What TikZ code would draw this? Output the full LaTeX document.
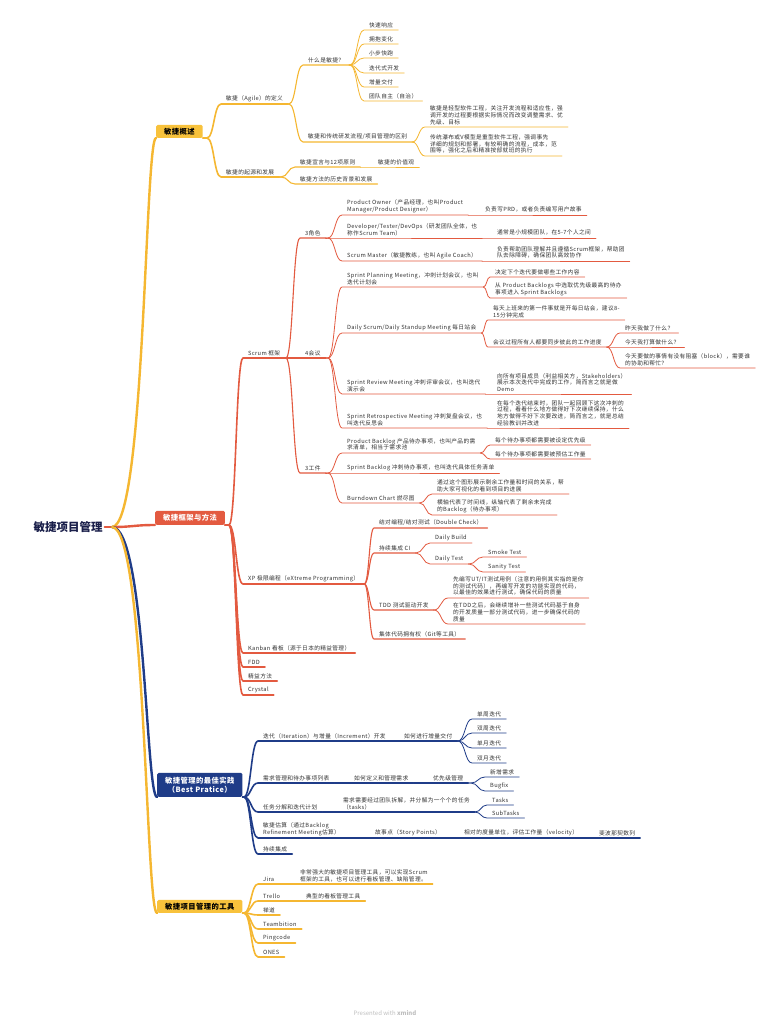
\documentclass[tikz,border=0pt]{standalone}
\usepackage{fontspec}
\setmainfont[LetterSpace=6]{Noto Sans CJK SC}
\newfontfamily\rootfont{Noto Sans CJK SC}
\usetikzlibrary{calc}
\definecolor{yl}{HTML}{F5B731}
\definecolor{ylbox}{HTML}{F8C23C}
\definecolor{rd}{HTML}{E35A40}
\definecolor{bl}{HTML}{1F3C88}
\definecolor{tx}{HTML}{333333}
\definecolor{rootc}{HTML}{1A1F4A}
\tikzset{
  tn/.style={anchor=south west, inner xsep=5pt, inner ysep=2.2pt, align=left, text=tx, font=\fontsize{5.7}{6.7}\selectfont},
  boxn/.style={anchor=south west, inner xsep=8pt, inner ysep=0pt, rounded corners=1.5pt, align=center, font=\fontsize{7.3}{9}\selectfont\bfseries},
  lnY/.style={draw=yl, line width=#1}, lnY/.default=0.8pt,
  lnR/.style={draw=rd, line width=#1}, lnR/.default=0.8pt,
  lnB/.style={draw=bl, line width=#1}, lnB/.default=0.8pt,
}
% curve from parent (south east) to child (south west) plus child's underline;
% the parent's line runs on until 14pt before the child
\newcommand{\br}[4][0.5]{%
  \draw[#2] let \p1=(#3.south east), \p2=(#4.south west), \n1={max(\x1,\x2-14pt)}, \n2={(\n1+\x2)/2} in
    (\p1) -- ({\n1*1pt},\y1) .. controls ({\n2*1pt},\y1) and ({\n2*1pt},\y2) .. (\p2) -- (#4.south east);}
% trunk from root to a box
\newcommand{\trunk}[3][0.75]{%
  \draw[#2] let \p1=(rootend), \p2=(#3.south west), \p3=($(rootend)!#1!(#3.south west)$) in
    (\p1) .. controls (\x3,\y1) and (\x3,\y2) .. (\p2);}
\begin{document}
\begin{tikzpicture}[x=1pt,y=-1pt,line cap=round,line join=round]
\useasboundingbox (0,0) rectangle (768,1024);
\fill[white] (0,0) rectangle (768,1024);

% ---------------- root
\node[inner sep=2pt, text=rootc, font=\rootfont\fontsize{11.5}{13}\selectfont\bfseries] (root) at (68,527) {敏捷项目管理};
\coordinate (rootend) at (112,527);

% ---------------- boxes
\node[boxn, fill=ylbox, text=black, minimum height=13pt] (g1) at (156,138) {敏捷概述};
\node[boxn, fill=rd, text=white, minimum height=14pt] (g2) at (155,525) {敏捷框架与方法};
\node[boxn, fill=bl, text=white, minimum height=24pt] (g3) at (157,797) {敏捷管理的最佳实践\\（Best Pratice）};
\node[boxn, fill=ylbox, text=black, minimum height=13pt] (g4) at (157,913) {敏捷项目管理的工具};

% ---------------- yellow: overview
\node[tn] (def) at (221,104) {敏捷（Agile）的定义};
\node[tn] (what) at (303,65) {什么是敏捷？};
\node[tn] (w1) at (364,30) {快速响应};
\node[tn] (w2) at (364,44) {拥抱变化};
\node[tn] (w3) at (364,58) {小步快跑};
\node[tn] (w4) at (364,73) {迭代式开发};
\node[tn] (w5) at (364,87) {增量交付};
\node[tn] (w6) at (364,101) {团队自主（自治）};
\node[tn] (diff) at (303,142) {敏捷和传统研发流程/项目管理的区别};
\node[tn] (d1) at (425,127) {敏捷是轻型软件工程，关注开发流程和适应性，强\\调开发的过程要根据实际情况而改变调整需求、优\\先级、目标};
\node[tn] (d2) at (425,156) {传统瀑布或V模型是重型软件工程，强调事先\\详细的规划和部署，有较明确的流程，成本，范\\围等，强化之后和精准按部就班的执行};
\node[tn] (orig) at (221,177) {敏捷的起源和发展};
\node[tn] (decl) at (295,167) {敏捷宣言与12项原则};
\node[tn] (vals) at (373,167) {敏捷的价值观};
\node[tn] (hist) at (295,184) {敏捷方法的历史背景和发展};

% ---------------- red: frameworks
\node[tn] (scrum) at (243,358) {Scrum 框架};
\node[tn] (r3) at (300,238) {3角色};
\node[tn] (po) at (342,215) {Product Owner（产品经理，也叫Product\\Manager/Product Designer）};
\node[tn] (poc) at (480,215) {负责写PRD，或者负责编写用户故事};
\node[tn] (dev) at (342,238) {Developer/Tester/DevOps（研发团队全体，也\\称作Scrum Team）};
\node[tn] (devc) at (492,238) {通常是小规模团队，在5-7个人之间};
\node[tn] (sm) at (342,261) {Scrum Master（敏捷教练，也叫 Agile Coach）};
\node[tn] (smc) at (492,261) {负责帮助团队理解并且遵循Scrum框架，帮助团\\队去除障碍，确保团队高效协作};
\node[tn] (r4) at (300,358) {4会议};
\node[tn] (spm) at (342,287) {Sprint Planning Meeting，冲刺计划会议，也叫\\迭代计划会};
\node[tn] (spm1) at (490,277) {决定下个迭代要做哪些工作内容};
\node[tn] (spm2) at (490,298) {从 Product Backlogs 中选取优先级最高的待办\\事项进入 Sprint Backlogs};
\node[tn] (dsm) at (342,333) {Daily Scrum/Daily Standup Meeting 每日站会};
\node[tn] (dsm1) at (488,320) {每天上班来的第一件事就是开每日站会，建议8-\\15分钟完成};
\node[tn] (dsm2) at (488,347) {会议过程所有人都要同步彼此的工作进度};
\node[tn] (q1) at (620,333) {昨天我做了什么？};
\node[tn] (q2) at (620,347) {今天我打算做什么？};
\node[tn] (q3) at (620,368) {今天要做的事情有没有阻塞（block），需要谁\\的协助和帮忙？};
\node[tn] (srm) at (342,394) {Sprint Review Meeting 冲刺评审会议，也叫迭代\\演示会};
\node[tn] (srm1) at (492,394) {向所有项目成员（利益相关方，Stakeholders）\\展示本次迭代中完成的工作，简而言之就是做\\Demo};
\node[tn] (sre) at (342,428) {Sprint Retrospective Meeting 冲刺复盘会议，也\\叫迭代反思会};
\node[tn] (sre1) at (492,428) {在每个迭代结束时，团队一起回顾下这次冲刺的\\过程，看看什么地方做得好下次继续保持，什么\\地方做得不好下次要改进，简而言之，就是总结\\经验教训并改进};
\node[tn] (r3w) at (300,473) {3工件};
\node[tn] (pb) at (342,453) {Product Backlog 产品待办事项，也叫产品的需\\求清单，相当于需求池};
\node[tn] (pb1) at (490,445) {每个待办事项都需要被设定优先级};
\node[tn] (pb2) at (490,459) {每个待办事项都需要被预估工作量};
\node[tn] (sb) at (342,473) {Sprint Backlog 冲刺待办事项，也叫迭代具体任务清单};
\node[tn] (bc) at (342,503) {Burndown Chart 燃尽图};
\node[tn] (bc1) at (432,494) {通过这个图形展示剩余工作量和时间的关系，帮\\助大家可视化的看到项目的进展};
\node[tn] (bc2) at (432,515) {横轴代表了时间线，纵轴代表了剩余未完成\\的Backlog（待办事项）};
\node[tn] (xp) at (243,584) {XP 极限编程（eXtreme Programming）};
\node[tn] (pair) at (374,528) {结对编程/结对测试（Double Check）};
\node[tn] (ci) at (374,553) {持续集成 CI};
\node[tn] (db) at (430,543) {Daily Build};
\node[tn] (dt) at (430,564) {Daily Test};
\node[tn] (st) at (483,557) {Smoke Test};
\node[tn] (sa) at (483,572) {Sanity Test};
\node[tn] (tdd) at (374,610) {TDD 测试驱动开发};
\node[tn] (tdd1) at (448,598) {先编写UT/IT测试用例（注意的用例其实指的是你\\的测试代码），再编写开发的功能实现的代码，\\以最佳的效果进行测试，确保代码的质量};
\node[tn] (tdd2) at (448,624) {在TDD之后，会继续增补一些测试代码基于自身\\的开发质量一部分测试代码，进一步确保代码的\\质量};
\node[tn] (git) at (374,639) {集体代码拥有权（Git等工具）};
\node[tn] (kb) at (243,653) {Kanban 看板（源于日本的精益管理）};
\node[tn] (fdd) at (243,667) {FDD};
\node[tn] (lean) at (243,681) {精益方法};
\node[tn] (cry) at (243,695) {Crystal};

% ---------------- blue: best practice
\node[tn] (it) at (258,741) {迭代（Iteration）与增量（Increment）开发};
\node[tn] (itd) at (399,741) {如何进行增量交付};
\node[tn] (i1) at (472,719) {单周迭代};
\node[tn] (i2) at (472,733) {双周迭代};
\node[tn] (i3) at (472,748) {单月迭代};
\node[tn] (i4) at (472,763) {双月迭代};
\node[tn] (req) at (258,783) {需求管理和待办事项列表};
\node[tn] (reqd) at (349,783) {如何定义和管理需求};
\node[tn] (prio) at (428,783) {优先级管理};
\node[tn] (newr) at (485,777) {新增需求};
\node[tn] (bug) at (485,791) {Bugfix};
\node[tn] (task) at (258,812) {任务分解和迭代计划};
\node[tn] (taskd) at (338,812) {需求需要经过团队拆解，并分解为一个个的任务\\（tasks）};
\node[tn] (tasks) at (487,805) {Tasks};
\node[tn] (subt) at (487,818) {SubTasks};
\node[tn] (est) at (258,838) {敏捷估算（通过Backlog\\Refinement Meeting估算）};
\node[tn] (sp) at (370,838) {故事点（Story Points）};
\node[tn] (rel) at (459,838) {相对的度量单位，评估工作量（velocity）};
\node[tn] (fib) at (594,838) {斐波那契数列};
\node[tn] (ci2) at (258,854) {持续集成};

% ---------------- yellow: tools
\node[tn] (jira) at (258,884) {Jira};
\node[tn] (jirad) at (295,884) {非常强大的敏捷项目管理工具，可以实现Scrum\\框架的工具，也可以进行看板管理、缺陷管理。};
\node[tn] (trello) at (258,901) {Trello};
\node[tn] (trellod) at (301,901) {典型的看板管理工具};
\node[tn] (chd) at (258,915) {禅道};
\node[tn] (tmb) at (258,929) {Teambition};
\node[tn] (png) at (258,943) {Pingcode};
\node[tn] (ones) at (258,957) {ONES};

% ---------------- footer
\node[text=black!25, font=\rootfont\fontsize{6}{7}\selectfont] (foot) at (385,1013) {Presented with \textbf{xmind}};

% ================= connectors
\draw[lnR=2.4pt] (root.east) -- (rootend);
\trunk{lnY=2.4pt}{g1}
\trunk[0.5]{lnR=2.4pt}{g2}
\trunk{lnB=2.4pt}{g3}
\trunk{lnY=2.4pt}{g4}

% yellow overview
\br{lnY=1.6pt}{g1}{def}
\br{lnY=1.6pt}{g1}{orig}
\br{lnY=1.1pt}{def}{what}
\br{lnY=1.1pt}{def}{diff}
\foreach \nm in {w1,w2,w3,w4,w5,w6} {\br{lnY}{what}{\nm}}
\br{lnY}{diff}{d1}
\br{lnY}{diff}{d2}
\br{lnY=1.1pt}{orig}{decl}
\br{lnY=1.1pt}{orig}{hist}
\br{lnY}{decl}{vals}

% red frameworks
\foreach \nm in {scrum,xp,kb,fdd,lean,cry} {\br{lnR=1.6pt}{g2}{\nm}}
\foreach \nm in {r3,r4,r3w} {\br{lnR=1.1pt}{scrum}{\nm}}
\foreach \nm in {po,dev,sm} {\br{lnR}{r3}{\nm}}
\br{lnR}{po}{poc}
\br{lnR}{dev}{devc}
\br{lnR}{sm}{smc}
\foreach \nm in {spm,dsm,srm,sre} {\br{lnR}{r4}{\nm}}
\br{lnR}{spm}{spm1}
\br{lnR}{spm}{spm2}
\br{lnR}{dsm}{dsm1}
\br{lnR}{dsm}{dsm2}
\foreach \nm in {q1,q2,q3} {\br{lnR}{dsm2}{\nm}}
\br{lnR}{srm}{srm1}
\br{lnR}{sre}{sre1}
\foreach \nm in {pb,sb,bc} {\br{lnR}{r3w}{\nm}}
\br{lnR}{pb}{pb1}
\br{lnR}{pb}{pb2}
\br{lnR}{bc}{bc1}
\br{lnR}{bc}{bc2}
\foreach \nm in {pair,ci,tdd,git} {\br{lnR=1.1pt}{xp}{\nm}}
\br{lnR}{ci}{db}
\br{lnR}{ci}{dt}
\br{lnR}{dt}{st}
\br{lnR}{dt}{sa}
\br{lnR}{tdd}{tdd1}
\br{lnR}{tdd}{tdd2}

% blue best practice
\foreach \nm in {it,req,task,est,ci2} {\br{lnB=1.6pt}{g3}{\nm}}
\br{lnB=1.1pt}{it}{itd}
\foreach \nm in {i1,i2,i3,i4} {\br{lnB}{itd}{\nm}}
\br{lnB=1.1pt}{req}{reqd}
\br{lnB=1.1pt}{reqd}{prio}
\br{lnB}{prio}{newr}
\br{lnB}{prio}{bug}
\br{lnB=1.1pt}{task}{taskd}
\br{lnB}{taskd}{tasks}
\br{lnB}{taskd}{subt}
\br{lnB=1.1pt}{est}{sp}
\br{lnB=1.1pt}{sp}{rel}
\br{lnB=1.1pt}{rel}{fib}

% yellow tools
\foreach \nm in {jira,trello,chd,tmb,png,ones} {\br{lnY=1.6pt}{g4}{\nm}}
\br{lnY=1.1pt}{jira}{jirad}
\br{lnY=1.1pt}{trello}{trellod}
\end{tikzpicture}
\end{document}
